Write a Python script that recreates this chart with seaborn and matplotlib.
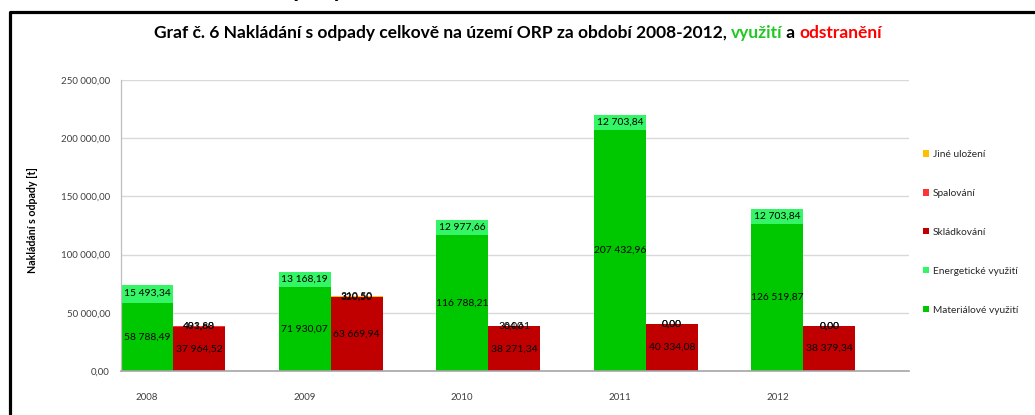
import numpy as np
import pandas as pd
import matplotlib
matplotlib.use("Agg")
import matplotlib.pyplot as plt
from matplotlib.lines import Line2D
from matplotlib.patches import Patch
import seaborn as sns

# ---------------- data ----------------
years = ["2008", "2009", "2010", "2011", "2012"]
materialove = [58788.49, 71930.07, 116788.21, 207432.96, 126519.87]
energeticke = [15493.34, 13168.19, 12977.66, 12703.84, 12703.84]
skladkovani = [37964.52, 63669.94, 38271.34, 40334.08, 38379.34]
spalovani = [493.88, 320.50, 0.00, 0.00, 0.00]
jine_ulozeni = [401.60, 310.50, 364.61, 0.00, 0.00]
y_ticks = [0, 50000, 100000, 150000, 200000, 250000]

title_parts = [("Graf č. 6 Nakládání s odpady celkově na území ORP za období 2008-2012, ", "black"),
               ("využití", "#22C822"),
               (" a ", "black"),
               ("odstranění", "#FF0000")]
y_label = "Nakládání s odpady [t]"
legend_labels = ["Jiné uložení", "Spalování", "Skládkování", "Energetické využití", "Materiálové využití"]

c_mat = "#00C800"
c_ene = "#33F566"
c_skl = "#C00000"
c_spa = "#FF3333"
c_jin = "#FFC000"

sns.set_theme(style="white")
plt.rcParams["font.family"] = ["Lato", "DejaVu Sans"]

W, H = 1035, 415
fig = plt.figure(figsize=(W / 100, H / 100), dpi=100)
fig.patch.set_facecolor("white")
ax = fig.add_axes([121 / W, (H - 371) / H, (909 - 121) / W, (371 - 80) / H])

groups = ["vyuziti", "odstraneni"]
width = 0.66

# cumulative layers, drawn from tallest to shortest in each group
green_layers = [
    (np.add(materialove, energeticke), c_ene),
    (np.array(materialove), c_mat),
]
red_layers = [
    (np.add(np.add(skladkovani, spalovani), jine_ulozeni), c_jin),
    (np.add(skladkovani, spalovani), c_spa),
    (np.array(skladkovani), c_skl),
]

def draw_layer(vals, color, grp):
    rows = []
    for i, y in enumerate(years):
        for g in groups:
            rows.append({"year": y, "group": g, "val": float(vals[i]) if g == grp else 0.0})
    df = pd.DataFrame(rows)
    pal = {g: (color if g == grp else (1, 1, 1, 0)) for g in groups}
    sns.barplot(data=df, x="year", y="val", hue="group", hue_order=groups, order=years,
                palette=pal, dodge=True, width=width, errorbar=None, legend=False,
                saturation=1, linewidth=0, ax=ax)

for vals, col in green_layers:
    draw_layer(vals, col, "vyuziti")
for vals, col in red_layers:
    draw_layer(vals, col, "odstraneni")

def fmt(v):
    return f"{v:,.2f}".replace(",", " ").replace(".", ",")

off = width / 4
lab_fs = 7.4
for i in range(len(years)):
    xg = i - off
    xr = i + off
    ax.text(xg, materialove[i] / 2, fmt(materialove[i]), ha="center", va="center", fontsize=lab_fs, color="black")
    ax.text(xg, materialove[i] + energeticke[i] / 2, fmt(energeticke[i]), ha="center", va="center", fontsize=lab_fs, color="black")
    ax.text(xr, skladkovani[i] / 2, fmt(skladkovani[i]), ha="center", va="center", fontsize=lab_fs, color="black")
    ax.text(xr, skladkovani[i] + spalovani[i] / 2, fmt(spalovani[i]), ha="center", va="center", fontsize=lab_fs, color="black")
    ax.text(xr, skladkovani[i] + spalovani[i] + jine_ulozeni[i] / 2, fmt(jine_ulozeni[i]), ha="center", va="center", fontsize=lab_fs, color="black")

ax.set_xlim(-width / 2, -width / 2 + len(years))
ax.set_ylim(0, 250000)
ax.set_yticks(y_ticks)
ax.set_yticklabels([fmt(t) for t in y_ticks], fontsize=7.0, color="#404040")
ax.set_xticks([i - off for i in range(len(years))])
ax.set_xticklabels(years, fontsize=7.0, color="#404040")
ax.tick_params(axis="x", length=0, pad=16)
ax.tick_params(axis="y", length=0, pad=8)
ax.set_xlabel("")
ax.set_ylabel("")
ax.yaxis.grid(True, color="#D9D9D9", linewidth=1)
ax.set_axisbelow(True)
for s in ["top", "right"]:
    ax.spines[s].set_visible(False)
ax.spines["left"].set_color("#BFBFBF")
ax.spines["left"].set_linewidth(0.9)
ax.spines["bottom"].set_color("#A6A6A6")
ax.spines["bottom"].set_linewidth(1.2)

fig.text(33 / W, 1 - 220 / H, y_label, rotation=90, ha="center", va="center",
         fontsize=7.7, fontweight="bold", color="black")

# multi-coloured title
fig.canvas.draw()
renderer = fig.canvas.get_renderer()
texts = []
for s, c in title_parts:
    t = fig.text(0, 1 - 33 / H, s, fontsize=12.5, fontweight="bold", color=c, ha="left", va="center")
    texts.append(t)
widths = [t.get_window_extent(renderer).width for t in texts]
total = sum(widths)
x0 = (518 - total / 2)
for t, w in zip(texts, widths):
    t.set_x(x0 / W)
    x0 += w

# legend
handles = [Patch(facecolor=c, edgecolor="none") for c in [c_jin, c_spa, c_skl, c_ene, c_mat]]
fig.legend(handles, legend_labels, loc="upper left", bbox_to_anchor=(923 / W, 1 - 150 / H),
           frameon=False, fontsize=7.3, labelspacing=2.95, handlelength=0.6, handleheight=0.6,
           handletextpad=0.35, borderpad=0, borderaxespad=0)

# frame and cut-off heading above it
fig.add_artist(Line2D([10 / W, 10 / W, 1.0], [0, 1 - 12 / H, 1 - 12 / H],
                      transform=fig.transFigure, color="black", linewidth=2.3))
fig.text(345 / W, 1 + 3 / H, "Nakládání s odpady", ha="right", va="baseline",
         fontsize=17, fontweight="bold", color="black")

fig.savefig("out.png", dpi=100, facecolor="white")
